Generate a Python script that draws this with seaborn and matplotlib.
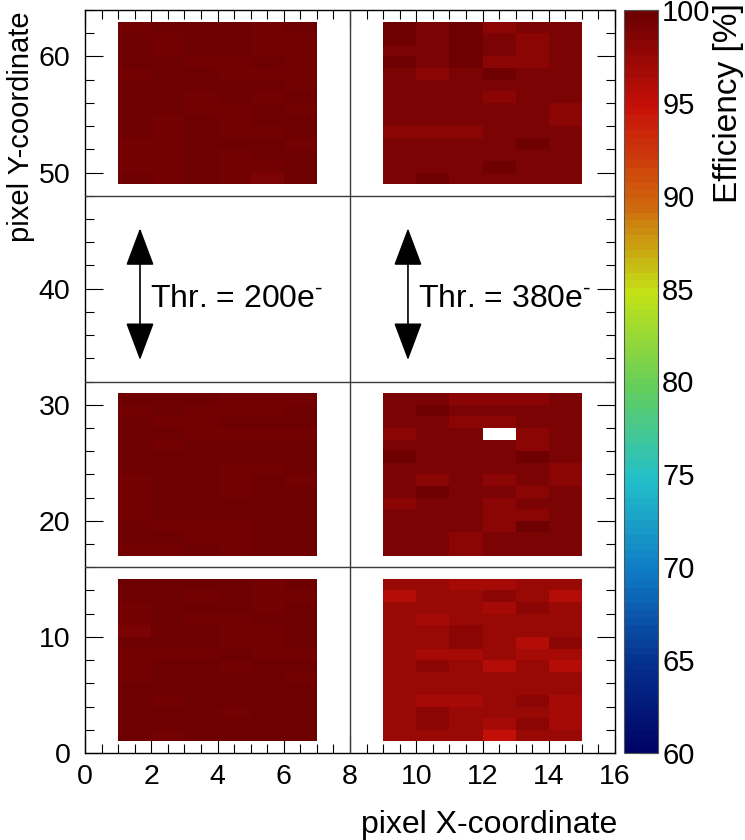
import numpy as np
import matplotlib
matplotlib.use("Agg")
import matplotlib.pyplot as plt
import seaborn as sns
from matplotlib.colors import LinearSegmentedColormap, ListedColormap

# ---------------------------------------------------------------------------
# Pixel efficiency [%] per sensor sector. Each sector is 6 columns x 14 rows,
# rows listed from the top row of the sector down to its bottom row.
# ---------------------------------------------------------------------------
eff_200_top = [
    [99.4, 99.6, 99.6, 99.6, 99.4, 99.6],
    [99.6, 99.4, 99.6, 99.6, 99.4, 99.4],
    [99.6, 99.4, 99.6, 99.6, 99.4, 99.4],
    [99.6, 99.6, 99.4, 99.4, 99.6, 99.4],
    [99.4, 99.6, 99.6, 99.4, 99.4, 99.4],
    [99.6, 99.6, 99.6, 99.6, 99.6, 99.4],
    [99.6, 99.6, 99.4, 99.6, 99.4, 99.6],
    [99.6, 99.6, 99.4, 99.4, 99.6, 99.4],
    [99.6, 99.4, 99.6, 99.4, 99.6, 99.6],
    [99.6, 99.4, 99.6, 99.4, 99.4, 99.6],
    [99.4, 99.4, 99.6, 99.6, 99.6, 99.4],
    [99.4, 99.4, 99.6, 99.4, 99.6, 99.6],
    [99.4, 99.4, 99.6, 99.4, 99.4, 99.6],
    [99.6, 99.4, 99.6, 99.4, 98.8, 99.6],
]
eff_380_top = [
    [99.6, 98.8, 99.6, 98.0, 98.8, 98.8],
    [99.6, 98.8, 99.6, 98.8, 98.0, 98.8],
    [98.8, 98.8, 99.6, 98.8, 98.0, 98.8],
    [99.6, 98.8, 99.6, 98.0, 98.0, 98.8],
    [98.8, 98.0, 98.8, 99.6, 98.8, 98.8],
    [98.8, 98.8, 98.8, 98.8, 98.8, 98.8],
    [98.8, 98.8, 98.8, 98.0, 98.8, 98.8],
    [98.8, 98.8, 98.8, 98.8, 98.8, 98.0],
    [98.8, 98.8, 98.8, 98.8, 98.8, 98.0],
    [98.0, 98.0, 98.0, 98.8, 98.8, 98.8],
    [98.8, 98.8, 98.8, 98.8, 99.6, 98.8],
    [98.8, 98.8, 98.8, 98.8, 98.8, 98.8],
    [98.8, 98.8, 98.8, 99.6, 98.8, 98.8],
    [98.8, 99.6, 98.8, 98.8, 98.8, 98.8],
]
eff_200_mid = [
    [99.6, 99.6, 99.6, 99.4, 99.4, 99.4],
    [99.4, 99.6, 99.4, 99.4, 99.4, 99.6],
    [99.6, 99.4, 99.4, 99.6, 99.6, 99.6],
    [99.6, 99.6, 99.4, 99.4, 99.4, 99.4],
    [99.6, 99.4, 99.6, 99.6, 99.6, 99.6],
    [99.6, 99.6, 99.6, 99.6, 99.6, 99.6],
    [99.6, 99.6, 99.6, 99.4, 99.4, 99.6],
    [99.4, 99.6, 99.6, 99.4, 99.6, 99.4],
    [99.4, 99.6, 99.6, 99.4, 99.6, 99.6],
    [99.4, 99.6, 99.6, 99.6, 99.6, 99.6],
    [99.4, 99.6, 99.6, 99.6, 99.6, 99.6],
    [99.6, 99.4, 99.4, 99.4, 99.6, 99.6],
    [99.6, 99.6, 99.4, 99.4, 99.6, 99.6],
    [99.4, 99.4, 99.6, 99.4, 99.6, 99.6],
]
eff_380_mid = [
    [98.8, 98.8, 98.0, 98.0, 98.0, 98.8],
    [98.8, 99.6, 98.8, 98.8, 98.8, 98.8],
    [98.8, 98.8, 98.0, 98.0, 98.8, 98.8],
    [98.0, 98.8, 98.8, np.nan, 98.0, 98.8],
    [98.8, 98.8, 98.8, 98.8, 98.0, 98.8],
    [99.6, 98.8, 98.8, 98.8, 99.6, 98.8],
    [98.8, 98.8, 98.8, 98.8, 98.8, 98.0],
    [98.8, 98.0, 98.8, 98.0, 98.8, 98.0],
    [98.8, 99.6, 98.8, 98.8, 98.0, 98.8],
    [98.0, 98.8, 98.8, 98.0, 98.8, 98.8],
    [98.8, 98.8, 98.8, 98.0, 98.0, 98.8],
    [98.8, 98.8, 98.8, 98.0, 99.6, 98.8],
    [98.8, 98.8, 98.0, 98.8, 98.8, 98.8],
    [98.8, 98.8, 98.0, 98.8, 98.8, 98.8],
]
eff_200_bot = [
    [99.6, 99.6, 99.6, 99.6, 99.4, 99.6],
    [99.6, 99.6, 99.4, 99.6, 99.4, 99.4],
    [99.4, 99.6, 99.6, 99.6, 99.4, 99.6],
    [99.4, 99.6, 99.4, 99.4, 99.6, 99.6],
    [98.8, 99.6, 99.6, 99.4, 99.4, 99.6],
    [99.6, 99.6, 99.6, 99.4, 99.4, 99.6],
    [99.4, 99.4, 99.4, 99.6, 99.4, 99.4],
    [99.4, 99.6, 99.6, 99.4, 99.6, 99.6],
    [99.4, 99.6, 99.6, 99.6, 99.6, 99.4],
    [99.6, 99.6, 99.6, 99.6, 99.6, 99.6],
    [99.6, 99.4, 99.6, 99.6, 99.6, 99.6],
    [99.6, 99.6, 99.6, 99.4, 99.6, 99.6],
    [99.6, 99.6, 99.6, 99.6, 99.6, 99.6],
    [99.6, 99.4, 99.6, 99.6, 99.6, 99.6],
]
eff_380_bot = [
    [97.2, 97.2, 96.4, 96.4, 97.2, 97.2],
    [95.6, 97.2, 97.2, 98.0, 97.2, 95.6],
    [97.2, 97.2, 97.2, 96.4, 98.0, 97.2],
    [97.2, 96.4, 97.2, 97.2, 97.2, 97.2],
    [97.2, 97.2, 98.0, 97.2, 97.2, 97.2],
    [97.2, 97.2, 98.0, 97.2, 95.6, 98.0],
    [97.2, 96.4, 96.4, 97.2, 96.4, 96.4],
    [97.2, 98.0, 97.2, 95.6, 97.2, 95.6],
    [97.2, 97.2, 97.2, 97.2, 97.2, 97.2],
    [97.2, 97.2, 97.2, 97.2, 97.2, 97.2],
    [97.2, 96.4, 96.4, 97.2, 98.0, 96.4],
    [97.2, 98.0, 97.2, 97.2, 97.2, 96.4],
    [97.2, 98.0, 97.2, 96.4, 98.0, 96.4],
    [97.2, 97.2, 97.2, 94.8, 97.2, 97.2],
]

# sector origin: (first column, first row) in pixel coordinates
sectors = [
    (eff_200_top, 1, 49), (eff_380_top, 9, 49),
    (eff_200_mid, 1, 17), (eff_380_mid, 9, 17),
    (eff_200_bot, 1, 1), (eff_380_bot, 9, 1),
]
n_cols, n_rows = 16, 64
thresholds = [r"Thr. = 200e$^{\text{-}}$", r"Thr. = 380e$^{\text{-}}$"]

x_ticks = [0, 2, 4, 6, 8, 10, 12, 14, 16]
x_tick_labels = ["0", "2", "4", "6", "8", "10", "12", "14", "16"]
y_ticks = [0, 10, 20, 30, 40, 50, 60]
y_tick_labels = ["0", "10", "20", "30", "40", "50", "60"]
z_ticks = [60, 65, 70, 75, 80, 85, 90, 95, 100]
z_min, z_max = 60, 100

# ---------------------------------------------------------------------------
# Fill the full pixel matrix (NaN = no measurement)
# ---------------------------------------------------------------------------
eff = np.full((n_rows, n_cols), np.nan)
for vals, c0, r0 in sectors:
    arr = np.array(vals, dtype=float)[::-1]
    eff[r0:r0 + arr.shape[0], c0:c0 + arr.shape[1]] = arr

# ---------------------------------------------------------------------------
# Rainbow palette quantised into contour bands
# ---------------------------------------------------------------------------
pal_r = [0, 5, 15, 35, 102, 196, 208, 199, 110]
pal_g = [0, 48, 124, 192, 206, 226, 97, 16, 0]
pal_b = [99, 142, 198, 201, 90, 22, 13, 8, 2]
stops = np.linspace(0, 1, len(pal_r))
grad = LinearSegmentedColormap.from_list(
    "rainbow55",
    [(s, (r / 255, g / 255, b / 255)) for s, r, g, b in zip(stops, pal_r, pal_g, pal_b)],
    N=255,
)
n_contours = 99
band_colors = [grad(int((k + 0.99) * 255 / n_contours)) for k in range(n_contours)]
cmap = ListedColormap(band_colors)

# ---------------------------------------------------------------------------
# Figure
# ---------------------------------------------------------------------------
sns.set_style("white")
plt.rcParams["font.family"] = ["Liberation Sans", "DejaVu Sans"]
plt.rcParams["mathtext.fontset"] = "custom"
plt.rcParams["mathtext.rm"] = "Liberation Sans"
plt.rcParams["mathtext.it"] = "Liberation Sans"
plt.rcParams["mathtext.default"] = "regular"
for key in ["text.color", "axes.labelcolor", "xtick.color", "ytick.color"]:
    plt.rcParams[key] = "black"

W, H = 745, 840
fig = plt.figure(figsize=(W / 100, H / 100), dpi=100)
fig.patch.set_facecolor("white")
ax = fig.add_axes([85 / W, 87 / H, 530 / W, 743 / H])
cax = fig.add_axes([624 / W, 87 / H, 34 / W, 743 / H])

sns.heatmap(
    eff, ax=ax, cmap=cmap, vmin=z_min, vmax=z_max, cbar_ax=cax,
    cbar_kws={"ticks": z_ticks}, xticklabels=False, yticklabels=False,
)
ax.set_xlim(0, n_cols)
ax.set_ylim(0, n_rows)
ax.set_facecolor("white")

for s in ax.spines.values():
    s.set_visible(True)
    s.set_color("black")
    s.set_linewidth(1.0)

tick_fs = 20.5
ax.set_xticks(x_ticks)
ax.set_xticklabels(x_tick_labels, fontsize=tick_fs, color="black")
ax.set_yticks(y_ticks)
ax.set_yticklabels(y_tick_labels, fontsize=tick_fs, color="black")
ax.set_xticks(np.arange(0, 16.01, 0.5), minor=True)
ax.set_yticks(np.arange(0, 64.01, 2), minor=True)
ax.tick_params(axis="both", which="major", direction="in", length=13, width=0.8,
               top=True, right=True, bottom=True, left=True, color="black")
ax.tick_params(axis="both", which="minor", direction="in", length=6.5, width=0.8,
               top=True, right=True, bottom=True, left=True, color="black")
ax.tick_params(axis="x", which="major", pad=8)
ax.tick_params(axis="y", which="major", pad=10.5)

# sector boundaries
for xv in [8]:
    ax.axvline(xv, color="#3a3a3a", lw=1.0, zorder=3)
for yv in [16, 32, 48]:
    ax.axhline(yv, color="#3a3a3a", lw=1.0, zorder=3)

# threshold annotations in the unused band
for x_arrow, x_text, label in [(1.66, 1.96, thresholds[0]), (9.75, 10.05, thresholds[1])]:
    ax.annotate(
        "", xy=(x_arrow, 45.2), xytext=(x_arrow, 33.85),
        arrowprops=dict(arrowstyle="<|-|>,head_length=1.2,head_width=0.45",
                        mutation_scale=20, color="black", lw=1.2,
                        shrinkA=0, shrinkB=0),
    )
    ax.text(x_text, 38.4, label, fontsize=23, va="baseline", ha="left", color="black")

# colour scale
cb = ax.collections[0].colorbar
cb.outline.set_linewidth(0.8)
cb.outline.set_edgecolor("#555555")
cax.yaxis.set_ticks_position("right")
cax.tick_params(axis="y", which="major", direction="in", length=13.5, width=0.8,
                pad=3, labelsize=21, color="black", labelcolor="black")
cax.minorticks_off()
cax.set_yticklabels([str(t) for t in z_ticks])

fig.text(729 / W, 1 - 3 / H, "Efficiency [%]", rotation=90, ha="center", va="top",
         fontsize=24, color="black")
fig.text(21 / W, 1 - 11 / H, "pixel Y-coordinate", rotation=90, ha="center", va="top",
         fontsize=21, color="black")
fig.text(617 / W, 1 - 833 / H, "pixel X-coordinate", ha="right", va="baseline",
         fontsize=23, color="black")

fig.savefig("out.png", dpi=100, facecolor="white")
